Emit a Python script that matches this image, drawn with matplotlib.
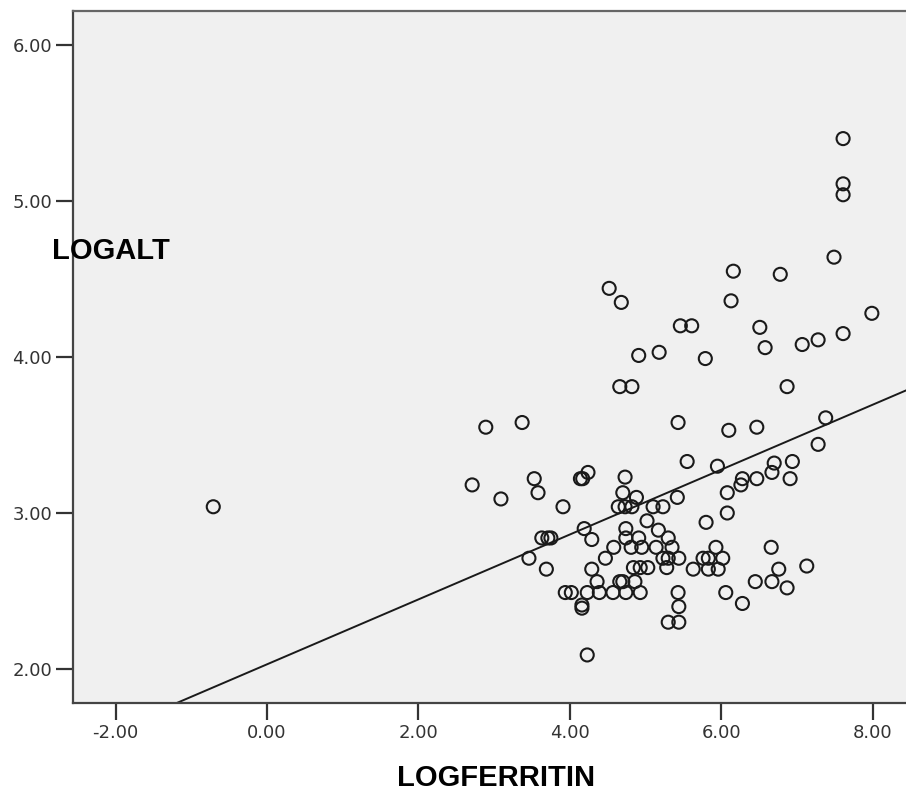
import matplotlib.pyplot as plt

# values
logferritin = [-0.71, 2.71, 2.89, 3.09, 3.37, 3.53, 3.58, 3.46, 3.69, 3.63,
               3.71, 3.75, 3.91, 3.94, 4.02, 4.14, 4.17, 4.24, 4.19, 4.29,
               4.16, 4.16, 4.23, 4.39, 4.57, 4.74, 4.93, 4.23, 4.29, 4.36,
               4.47, 4.58, 4.52, 4.68, 4.66, 4.82, 4.73, 4.70, 4.88, 4.64,
               4.73, 4.82, 4.74, 4.74, 4.91, 4.81, 4.95, 4.84, 4.93, 5.03,
               4.66, 4.70, 4.86, 4.91, 5.18, 5.02, 5.10, 5.23, 5.17, 5.30,
               5.14, 5.35, 5.23, 5.30, 5.44, 5.28, 5.43, 5.44, 5.30, 5.44,
               5.42, 5.46, 5.61, 5.43, 5.55, 5.79, 5.80, 5.93, 5.76, 5.83,
               6.02, 5.63, 5.83, 5.96, 5.95, 6.08, 6.08, 6.26, 6.28, 6.10,
               6.13, 6.16, 6.06, 6.28, 6.47, 6.47, 6.51, 6.58, 6.66, 6.67,
               6.70, 6.45, 6.67, 6.76, 6.78, 6.87, 6.87, 6.91, 6.94, 7.07,
               7.13, 7.28, 7.28, 7.38, 7.49, 7.61, 7.61, 7.61, 7.61, 7.99]
logalt = [3.04, 3.18, 3.55, 3.09, 3.58, 3.22, 3.13, 2.71, 2.64, 2.84,
          2.84, 2.84, 3.04, 2.49, 2.49, 3.22, 3.22, 3.26, 2.90, 2.83,
          2.41, 2.39, 2.49, 2.49, 2.49, 2.49, 2.49, 2.09, 2.64, 2.56,
          2.71, 2.78, 4.44, 4.35, 3.81, 3.81, 3.23, 3.13, 3.10, 3.04,
          3.04, 3.04, 2.90, 2.84, 2.84, 2.78, 2.78, 2.65, 2.65, 2.65,
          2.56, 2.56, 2.56, 4.01, 4.03, 2.95, 3.04, 3.04, 2.89, 2.84,
          2.78, 2.78, 2.71, 2.71, 2.71, 2.65, 2.49, 2.40, 2.30, 2.30,
          3.10, 4.20, 4.20, 3.58, 3.33, 3.99, 2.94, 2.78, 2.71, 2.71,
          2.71, 2.64, 2.64, 2.64, 3.30, 3.13, 3.00, 3.18, 3.22, 3.53,
          4.36, 4.55, 2.49, 2.42, 3.55, 3.22, 4.19, 4.06, 2.78, 3.26,
          3.32, 2.56, 2.56, 2.64, 4.53, 3.81, 2.52, 3.22, 3.33, 4.08,
          2.66, 4.11, 3.44, 3.61, 4.64, 5.40, 5.11, 5.04, 4.15, 4.28]

# fit line as drawn in the reference
fit_intercept = 2.03
fit_slope = 0.208

xticks = [-2, 0, 2, 4, 6, 8]
yticks = [2, 3, 4, 5, 6]

W, H = 906, 791
fig = plt.figure(figsize=(W / 100, H / 100), dpi=100, facecolor='white')
ax = fig.add_axes([73 / W, 1 - 703 / H, 1 - 73 / W, (703 - 11) / H])
ax.set_facecolor('#f0f0f0')

ax.scatter(logferritin, logalt, s=88, facecolors='none',
           edgecolors='#1a1a1a', linewidths=1.5, zorder=3)
ax.axline((0, fit_intercept), slope=fit_slope, color='#1a1a1a',
          lw=1.4, zorder=2)

ax.set_xlim(-2.563, 8.441)
ax.set_ylim(1.782, 6.218)
ax.set_xticks(xticks)
ax.set_yticks(yticks)
ax.set_xticklabels([f"{v:.2f}" for v in xticks])
ax.set_yticklabels([f"{v:.2f}" for v in yticks])
ax.tick_params(length=12, width=1.6, color='#333333', labelsize=13,
               labelcolor='#333333', pad=3)

ax.spines['right'].set_visible(False)
for side in ['left', 'bottom']:
    ax.spines[side].set_color('#444444')
    ax.spines[side].set_linewidth(1.6)
ax.spines['top'].set_color('#666666')
ax.spines['top'].set_linewidth(1.6)

fig.text(52 / W, 1 - 251 / H, "LOGALT", fontsize=21, fontweight='bold',
         family='Liberation Sans', va='center', ha='left', zorder=10)
fig.text(496 / W, 1 - 778 / H, "LOGFERRITIN", fontsize=21,
         fontweight='bold', family='Liberation Sans', va='center',
         ha='center')

fig.savefig("out.png", dpi=100, facecolor='white')
